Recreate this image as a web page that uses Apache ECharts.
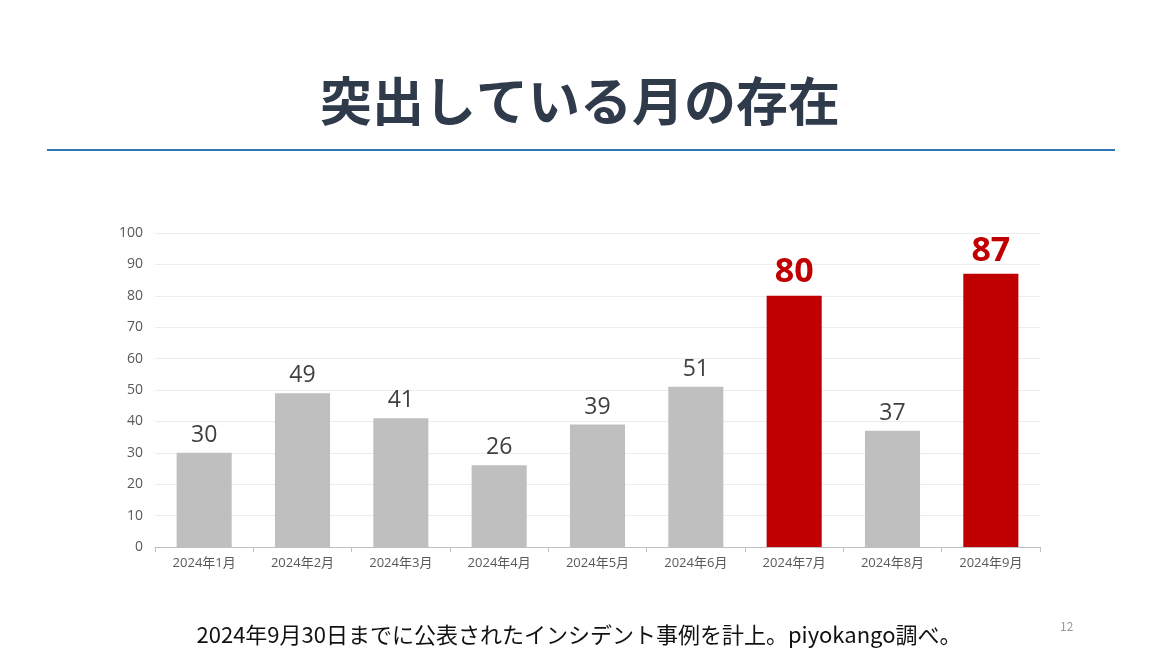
<!DOCTYPE html>
<html>
<head>
<meta charset="utf-8">
<script src="https://cdn.jsdelivr.net/npm/echarts@6/dist/echarts.min.js"></script>
<style>
  html, body { margin: 0; padding: 0; background: #fff; }
  #chart { width: 1160px; height: 653px; }
</style>
</head>
<body>
<div id="chart"></div>
<script>
// 月別インシデント件数
const months = ['2024年1月', '2024年2月', '2024年3月', '2024年4月', '2024年5月', '2024年6月', '2024年7月', '2024年8月', '2024年9月'];
const counts = [30, 49, 41, 26, 39, 51, 80, 37, 87];
const highlight = [false, false, false, false, false, false, true, false, true];

const font = '"Noto Sans CJK JP", "Noto Sans", sans-serif';
const numFont = '"Open Sans", "Noto Sans CJK JP", sans-serif';

let myChart = echarts.init(document.querySelector('#chart'));

let option = {
  textStyle: { fontFamily: font },
  title: [
    {
      text: '突出している月の存在',
      left: 'center',
      top: 70,
      textStyle: { fontSize: 52, fontWeight: 'bold', color: '#2f3a4a', fontFamily: font }
    },
    {
      text: '2024年9月30日までに公表されたインシデント事例を計上。piyokango調べ。',
      left: 574,
      textAlign: 'center',
      top: 619,
      textStyle: { fontSize: 22, fontWeight: 'normal', color: '#111', fontFamily: font }
    },
    {
      text: '12',
      left: 1055,
      top: 615,
      textStyle: { fontSize: 12, fontWeight: 'normal', color: '#999', fontFamily: font }
    }
  ],
  graphic: [{
    type: 'line',
    shape: { x1: 47, y1: 150, x2: 1115, y2: 150 },
    style: { stroke: '#2e75b6', lineWidth: 2 }
  }],
  grid: { left: 155, right: 120, top: 233, bottom: 106 },
  xAxis: {
    type: 'category',
    data: months,
    axisLine: { lineStyle: { color: '#bfbfbf' } },
    axisTick: { show: true, lineStyle: { color: '#bfbfbf' } },
    axisLabel: { color: '#595959', fontSize: 13, margin: 10, fontFamily: numFont }
  },
  yAxis: {
    type: 'value',
    min: 0,
    max: 100,
    interval: 10,
    axisLabel: { color: '#595959', fontSize: 14, margin: 12, fontFamily: numFont },
    splitLine: { lineStyle: { color: '#ececec' } }
  },
  series: [{
    type: 'bar',
    barWidth: '56%',
    data: counts.map((v, i) => ({
      value: v,
      itemStyle: { color: highlight[i] ? '#c00000' : '#bfbfbf' },
      label: highlight[i]
        ? { fontSize: 34, fontWeight: 'bold', color: '#c00000' }
        : { fontSize: 23, color: '#404040' }
    })),
    label: { show: true, position: 'top', distance: 6, fontFamily: numFont }
  }]
};

myChart.setOption(option);
</script>
</body>
</html>
